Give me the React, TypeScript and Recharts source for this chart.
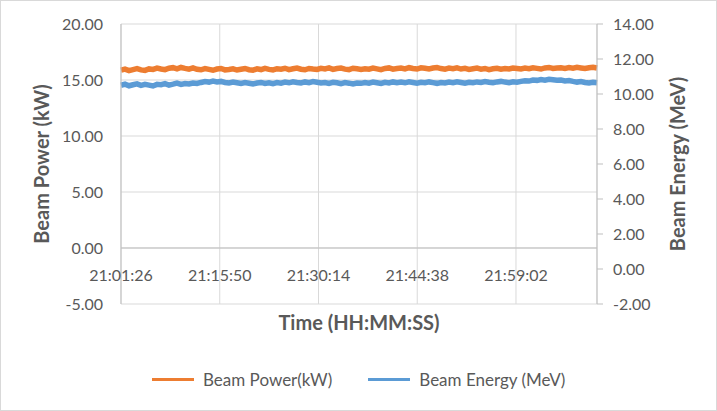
import React from 'react';
import { ComposedChart, Line, XAxis, YAxis, CartesianGrid, ReferenceLine, Label } from 'recharts';

const seriesNames = ['Beam Power(kW)', 'Beam Energy (MeV)'];
const seriesColors = ['#ED7D31', '#5B9BD5'];
const xTickLabels = ['21:01:26', '21:15:50', '21:30:14', '21:44:38', '21:59:02'];
const xTickSeconds = [0, 864, 1728, 2592, 3456];
const sampleStepSeconds = 35;
const leftTicks = [-5, 0, 5, 10, 15, 20];
const rightTicks = [-2, 0, 2, 4, 6, 8, 10, 12, 14];

const beamPower = [
  15.88, 15.97, 15.84, 15.93, 16.01, 15.9, 15.86, 15.99, 15.95, 16.06,
  15.98, 15.92, 16.05, 16.1, 15.99, 16.12, 16.04, 15.97, 16.08, 15.96,
  15.91, 16.02, 15.95, 15.87, 15.98, 16.03, 15.9, 15.94, 16.0, 15.89,
  15.96, 16.03, 15.92, 15.88, 15.99, 15.93, 16.04, 15.95, 15.9, 16.01,
  15.97, 16.05, 15.93, 16.0, 16.07, 15.96, 15.91, 16.03, 15.98, 15.94,
  16.04, 15.99, 16.08, 15.95, 16.02, 16.06, 15.97, 15.93, 16.05, 16.0,
  15.94, 16.01, 15.96, 16.06, 15.99, 15.92, 16.03, 16.08, 15.97, 16.02,
  16.06, 15.99, 16.1, 16.03, 15.98, 16.09, 16.05, 15.99, 16.07, 16.11,
  16.02, 15.97, 16.06, 16.01, 16.08, 15.98, 16.04, 15.95, 16.01, 16.06,
  15.97, 16.03, 15.93, 16.0, 16.05, 15.96, 16.02, 15.98, 16.07, 16.03,
  15.99, 16.06, 16.01, 16.09, 16.04, 15.98, 16.08, 16.12, 16.03, 16.07,
  16.1, 16.04, 16.11, 16.06, 16.13, 16.08, 16.03, 16.1, 16.14, 16.07,
];

const beamEnergy = [
  10.5, 10.56, 10.47, 10.53, 10.58, 10.49, 10.55, 10.51, 10.46, 10.55,
  10.53, 10.59, 10.51, 10.56, 10.62, 10.55, 10.6, 10.57, 10.63, 10.6,
  10.66, 10.71, 10.68, 10.74, 10.69, 10.72, 10.66, 10.63, 10.68, 10.64,
  10.6, 10.65, 10.61, 10.57, 10.63, 10.66, 10.6, 10.64, 10.59, 10.65,
  10.62, 10.68, 10.64, 10.7, 10.66, 10.63, 10.69, 10.65, 10.71, 10.67,
  10.63, 10.66, 10.61, 10.67, 10.64, 10.59, 10.65, 10.62, 10.58, 10.63,
  10.61, 10.66, 10.62, 10.68, 10.64, 10.6, 10.67, 10.63, 10.69, 10.65,
  10.68, 10.64, 10.7, 10.66, 10.62, 10.67, 10.64, 10.69, 10.65, 10.61,
  10.66, 10.63, 10.68, 10.65, 10.7, 10.66, 10.62, 10.67, 10.64, 10.69,
  10.66, 10.71, 10.67, 10.64, 10.69, 10.72, 10.68, 10.65, 10.7, 10.67,
  10.72, 10.76, 10.74, 10.8, 10.78, 10.83, 10.79, 10.84, 10.81, 10.78,
  10.8, 10.75, 10.77, 10.72, 10.68, 10.71, 10.66, 10.63, 10.67, 10.64,
];

const data = beamPower.map((p, i) => ({ t: i * sampleStepSeconds, power: p, energy: beamEnergy[i] }));

const FONT = 'Lato, "Liberation Sans", sans-serif';
const TEXT = '#595959';

const XTick = (props: any) => {
  const { x, y, payload } = props;
  const idx = xTickSeconds.indexOf(payload.value);
  return (
    <text x={x} y={y - 30} textAnchor="middle" dominantBaseline="central" fill={TEXT} fontSize={16} fontFamily={FONT}>
      {xTickLabels[idx]}
    </text>
  );
};

export default function App() {
  return (
    <div style={{ position: 'relative', width: 717, height: 411, background: '#fff' }}>
      <style>{'body{margin:0}'}</style>
      <ComposedChart width={717} height={411} data={data} margin={{ top: 24, right: 0, left: 0, bottom: 71 }}>
        <CartesianGrid yAxisId="left" stroke="#d9d9d9" strokeWidth={1} />
        <XAxis
          dataKey="t"
          type="number"
          domain={[0, 'dataMax']}
          ticks={xTickSeconds}
          axisLine={false}
          tickLine={false}
          tickSize={0}
          tickMargin={0}
          height={36}
          tick={<XTick />}
          interval={0}
        >
          <Label value="Time (HH:MM:SS)" position="insideBottom" offset={10} fill={TEXT} fontSize={20} fontWeight="bold" fontFamily={FONT} />
        </XAxis>
        <YAxis
          yAxisId="left"
          domain={[-5, 20]}
          ticks={leftTicks}
          tickFormatter={(v: number) => v.toFixed(2)}
          axisLine={{ stroke: '#bfbfbf' }}
          tickLine={false}
          tickSize={0}
          tickMargin={18}
          width={121}
          tick={{ fill: TEXT, fontSize: 16, fontFamily: FONT }}
          interval={0}
        >
          <Label value="Beam Power (kW)" angle={-90} position="insideLeft" offset={42} style={{ textAnchor: 'middle' }} fill={TEXT} fontSize={20} fontWeight="bold" fontFamily={FONT} />
        </YAxis>
        <YAxis
          yAxisId="right"
          orientation="right"
          domain={[-2, 14]}
          ticks={rightTicks}
          tickFormatter={(v: number) => v.toFixed(2)}
          axisLine={{ stroke: '#bfbfbf' }}
          tickLine={{ stroke: '#bfbfbf' }}
          tickSize={6}
          tickMargin={10}
          width={120}
          tick={{ fill: TEXT, fontSize: 16, fontFamily: FONT }}
          interval={0}
        >
          <Label value="Beam Energy (MeV)" angle={-90} position="insideRight" offset={39} style={{ textAnchor: 'middle' }} fill={TEXT} fontSize={20} fontWeight="bold" fontFamily={FONT} />
        </YAxis>
        <ReferenceLine yAxisId="left" y={0} stroke="#bfbfbf" strokeWidth={1} />
        <Line yAxisId="left" type="linear" dataKey="power" name={seriesNames[0]} stroke={seriesColors[0]} strokeWidth={5.5} strokeLinejoin="miter" dot={false} isAnimationActive={false} />
        <Line yAxisId="right" type="linear" dataKey="energy" name={seriesNames[1]} stroke={seriesColors[1]} strokeWidth={5.5} strokeLinejoin="miter" dot={false} isAnimationActive={false} />
      </ComposedChart>
      <div style={{ position: 'absolute', left: 152, top: 369, display: 'flex', alignItems: 'center', fontFamily: FONT, fontSize: 17, color: TEXT, whiteSpace: 'nowrap' }}>
        {seriesNames.map((name, i) => (
          <div key={name} style={{ display: 'flex', alignItems: 'center', marginRight: 36 }}>
            <div style={{ width: 42, height: 3, background: seriesColors[i], marginRight: 9 }} />
            <span>{name}</span>
          </div>
        ))}
      </div>
      <div style={{ position: 'absolute', inset: 0, border: '1px solid #d9d9d9', pointerEvents: 'none' }} />
    </div>
  );
}
